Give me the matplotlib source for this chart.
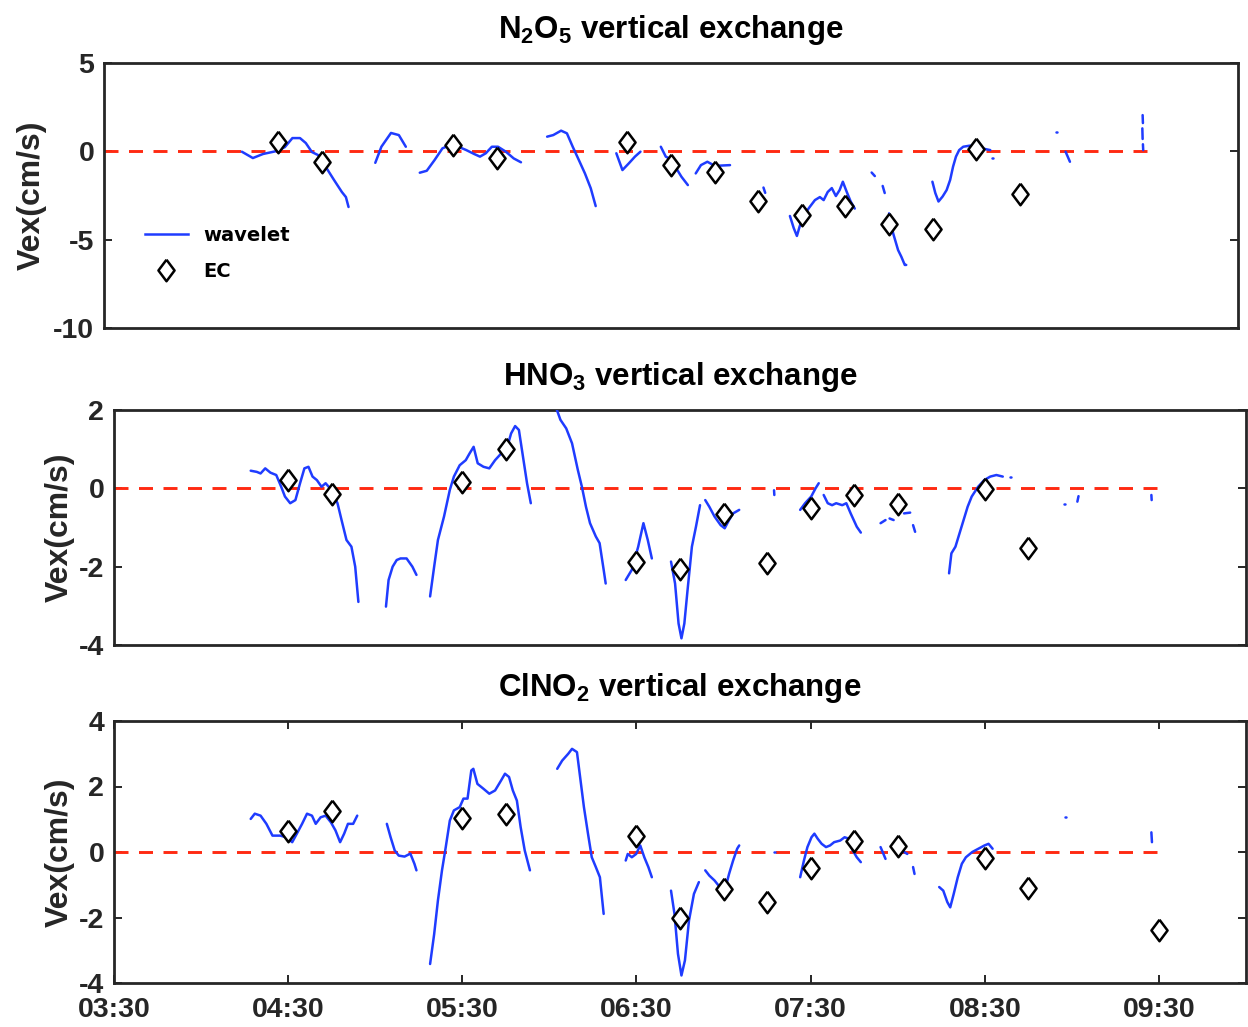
import matplotlib
matplotlib.use("Agg")
import matplotlib.pyplot as plt
from matplotlib.lines import Line2D

plt.rcParams["font.family"] = ["Liberation Sans", "DejaVu Sans"]
plt.rcParams["font.weight"] = "bold"
plt.rcParams["mathtext.fontset"] = "custom"
plt.rcParams["mathtext.bf"] = "Liberation Sans:bold"
plt.rcParams["mathtext.rm"] = "Liberation Sans:bold"
plt.rcParams["mathtext.default"] = "bf"

# ---------------------------------------------------------------- data
# time axis ticks (clock time)
tick_labels = ["03:30", "04:30", "05:30", "06:30", "07:30", "08:30", "09:30"]
x_start, x_end = "03:30", "10:00"
zero_line_end = "09:32"

# EC (eddy covariance) exchange velocities, cm/s
n2o5_ec_times = ["04:30", "04:45", "05:30", "05:45", "06:30", "06:45", "07:00",
                 "07:15", "07:30", "07:45", "08:00", "08:15", "08:30", "08:45"]
n2o5_ec_vex = [0.53, -0.60, 0.36, -0.38, 0.53, -0.77, -1.17,
               -2.81, -3.60, -3.10, -4.12, -4.40, 0.13, -2.42]

hno3_ec_times = ["04:30", "04:45", "05:30", "05:45", "06:30", "06:45", "07:00",
                 "07:15", "07:30", "07:45", "08:00", "08:30", "08:45"]
hno3_ec_vex = [0.21, -0.15, 0.16, 1.00, -1.88, -2.06, -0.66,
               -1.91, -0.50, -0.18, -0.40, -0.02, -1.52]

clno2_ec_times = ["04:30", "04:45", "05:30", "05:45", "06:30", "06:45", "07:00",
                  "07:15", "07:30", "07:45", "08:00", "08:30", "08:45", "09:30"]
clno2_ec_vex = [0.64, 1.25, 1.04, 1.16, 0.49, -2.00, -1.13,
                -1.53, -0.49, 0.34, 0.18, -0.18, -1.10, -2.38]

# wavelet exchange velocities: gap-separated pieces (minutes after midnight, cm/s)
n2o5_wavelet = [
    ([257.4, 261.2, 264.7, 269.5, 272.2, 274.8, 277.4, 279.4, 281.5, 283.6, 286.3, 289.1, 291.8, 293.2, 294.1],
     [-0.02, -0.38, -0.15, 0.02, 0.24, 0.75, 0.75, 0.47, -0.04, -0.21, -0.89, -1.62, -2.30, -2.59, -3.15]),
    ([303.3, 305.4, 308.7, 311.4, 313.8],
     [-0.65, 0.26, 1.04, 0.92, 0.26]),
    ([318.6, 321.0, 323.7, 326.4, 329.2, 331.9, 334.6, 337.3, 339.3, 341.3, 343.4, 345.5, 348.2, 350.9, 353.4],
     [-1.21, -1.10, -0.49, 0.17, 0.36, 0.26, 0.07, -0.15, -0.30, -0.11, 0.26, 0.26, -0.02, -0.40, -0.62]),
    ([362.4, 364.5, 367.2, 369.2, 371.2, 373.3, 375.4, 377.4, 379.1],
     [0.83, 0.92, 1.17, 1.02, 0.26, -0.49, -1.25, -2.09, -3.10]),
    ([386.2, 388.3, 390.5, 392.6, 394.5],
     [-0.11, -1.06, -0.68, -0.30, -0.02]),
    ([401.5, 403.2, 405.4, 406.8, 408.6, 410.8],
     [0.26, -0.30, -0.49, -0.96, -1.44, -1.91]),
    ([413.5, 415.3, 417.5, 419.6, 421.7, 425.3],
     [-1.25, -0.78, -0.59, -0.78, -0.81, -0.78]),
    ([436.8, 437.4], [-2.05, -2.35]),
    ([445.9, 447.2, 448.3, 449.3, 451.0, 452.7, 454.5, 456.2, 457.5, 458.9, 460.3, 461.7, 463.0, 464.1, 465.4, 466.8, 468.2],
     [-3.66, -4.34, -4.79, -4.22, -3.54, -3.15, -2.76, -2.59, -2.76, -2.30, -2.08, -2.53, -2.19, -1.72, -2.28, -2.84, -3.24]),
    ([474.0, 475.1], [-1.20, -1.40]),
    ([477.8, 478.5], [-1.96, -2.36]),
    ([480.0, 481.4, 483.1, 484.2, 485.4, 485.9],
     [-3.51, -4.64, -5.59, -5.96, -6.43, -6.43]),
    ([494.9, 495.9, 497.0, 498.4, 499.8, 501.0, 502.0, 503.0, 504.1, 505.5, 507.7, 509.8, 511.9, 514.8],
     [-1.72, -2.36, -2.84, -2.56, -2.19, -1.62, -0.87, -0.30, 0.07, 0.26, 0.32, 0.26, 0.17, 0.07]),
    ([515.4, 515.6], [-0.38, -0.38]),
    ([537.3, 537.6], [1.11, 1.11]),
    ([540.7, 542.2], [-0.02, -0.59]),
    ([567.2, 567.3], [2.05, 1.60]),
    ([567.1, 567.2], [1.30, 0.70]),
    ([567.3, 567.4], [0.40, 0.07]),
]

hno3_wavelet = [
    ([257.1, 259.2, 260.5, 262.1, 263.9, 265.9, 267.6, 268.9, 270.7, 272.5, 274.1, 275.6, 277.0, 278.4, 279.9, 281.5,
      282.9, 284.9, 287.0, 288.4, 290.1, 291.8, 293.1, 294.2],
     [0.45, 0.42, 0.38, 0.51, 0.40, 0.34, 0.04, -0.21, -0.38, -0.30, 0.13, 0.51, 0.55, 0.30, 0.21, 0.04,
      0.13, -0.04, -0.38, -0.81, -1.32, -1.49, -2.00, -2.90]),
    ([303.7, 304.6, 306.0, 307.4, 308.7, 310.8, 312.8, 314.2],
     [-3.02, -2.34, -2.00, -1.83, -1.79, -1.79, -2.00, -2.21]),
    ([318.9, 320.3, 321.6, 323.7, 325.7, 327.1, 329.1, 331.2, 332.5, 333.9, 335.3, 337.3, 339.3, 341.3, 343.4, 345.5,
      346.8, 348.2, 349.5, 350.9, 352.3, 353.6],
     [-2.76, -2.00, -1.32, -0.72, -0.04, 0.30, 0.59, 0.72, 0.89, 1.06, 0.64, 0.55, 0.51, 0.72, 0.89, 1.06,
      1.40, 1.59, 1.49, 0.81, 0.13, -0.38]),
    ([362.0, 362.4, 363.8, 365.8, 367.8, 369.8, 371.2, 372.6, 374.0, 376.0, 377.3, 378.7, 379.4],
     [2.20, 2.04, 1.75, 1.53, 1.15, 0.47, 0.04, -0.47, -0.89, -1.23, -1.40, -2.08, -2.43]),
    ([386.3, 388.4, 390.6, 392.4, 393.9, 395.3],
     [-2.34, -2.08, -1.49, -0.89, -1.32, -1.79]),
    ([401.9, 403.3, 404.5, 405.5, 406.5, 407.6, 409.1, 410.5, 411.9],
     [-1.87, -2.43, -3.45, -3.83, -3.45, -2.60, -1.49, -0.98, -0.43]),
    ([413.7, 415.1, 416.9, 419.0, 420.4, 421.9, 423.3, 425.4],
     [-0.30, -0.47, -0.72, -0.94, -1.02, -0.81, -0.64, -0.55]),
    ([437.4, 437.5], [-0.05, -0.17]),
    ([446.4, 448.1, 450.2, 451.7, 452.8],
     [-0.55, -0.38, -0.21, 0.00, 0.13]),
    ([454.5, 455.9, 457.4, 458.8, 460.9, 462.3, 463.8, 465.9, 467.3],
     [-0.17, -0.38, -0.43, -0.38, -0.43, -0.38, -0.64, -0.98, -1.13]),
    ([474.1, 475.8], [-0.89, -0.81]),
    ([477.2, 478.6], [-0.77, -0.81]),
    ([482.2, 484.3], [-0.64, -0.62]),
    ([485.3, 486.0], [-0.94, -1.11]),
    ([497.7, 498.5, 499.9, 501.3, 502.7, 504.1, 505.5, 507.7, 509.8, 511.9, 514.0, 516.2],
     [-2.17, -1.66, -1.49, -1.15, -0.81, -0.47, -0.21, 0.04, 0.21, 0.30, 0.34, 0.30]),
    ([518.8, 519.1], [0.30, 0.30]),
    ([537.3, 537.6], [-0.40, -0.40]),
    ([541.9, 542.3], [-0.34, -0.20]),
    ([567.4, 567.5], [-0.17, -0.30]),
]

clno2_wavelet = [
    ([257.1, 258.5, 260.5, 262.5, 264.6, 267.3, 269.3, 271.4, 273.0, 274.8, 276.5, 278.2, 279.5, 281.2, 282.9, 284.7,
      286.3, 287.9, 289.3, 290.6, 292.4, 293.8],
     [1.01, 1.17, 1.11, 0.86, 0.50, 0.50, 0.45, 0.30, 0.56, 0.86, 1.17, 1.11, 0.86, 1.06, 1.11, 0.91,
      0.66, 0.30, 0.56, 0.86, 0.86, 1.11]),
    ([304.0, 305.3, 306.7, 308.1, 310.1, 312.1, 313.5, 314.2],
     [0.86, 0.45, 0.05, -0.11, -0.14, -0.05, -0.36, -0.56]),
    ([318.9, 320.3, 321.6, 323.0, 324.3, 325.7, 327.1, 329.1, 330.4, 331.8, 333.1, 333.8, 335.2, 337.3, 339.3, 341.3,
      343.4, 344.7, 346.1, 347.4, 348.8, 350.1, 351.5, 353.3],
     [-3.42, -2.51, -1.48, -0.56, 0.15, 0.96, 1.27, 1.37, 1.63, 1.63, 2.49, 2.54, 2.08, 1.93, 1.78, 1.88,
      2.19, 2.39, 2.29, 1.88, 1.57, 0.76, 0.05, -0.56]),
    ([362.7, 364.4, 366.5, 367.8, 369.5, 370.6, 371.9, 373.3, 374.6, 376.0, 377.4, 378.7],
     [2.54, 2.79, 3.00, 3.15, 3.05, 2.28, 1.37, 0.56, -0.16, -0.46, -0.77, -1.89]),
    ([386.3, 387.0, 388.4, 389.9, 391.3, 392.7, 394.1, 395.3],
     [-0.26, -0.06, -0.16, -0.06, 0.20, -0.16, -0.46, -0.77]),
    ([401.9, 403.1, 404.3, 405.5, 406.7, 408.1, 409.8, 411.5],
     [-1.18, -1.89, -3.11, -3.77, -3.31, -2.09, -1.28, -0.92]),
    ([413.7, 415.1, 416.9, 418.7, 420.4, 421.9, 423.3, 424.7, 425.4],
     [-0.56, -0.72, -0.87, -1.07, -1.18, -0.67, -0.26, 0.10, 0.20]),
    ([437.4, 437.6], [0.00, 0.00]),
    ([446.4, 447.7, 448.9, 450.3, 451.3, 452.4, 453.8, 455.3, 456.7, 458.1, 460.2, 461.7, 463.1, 464.5, 465.9, 467.3],
     [-0.77, -0.26, 0.15, 0.45, 0.56, 0.41, 0.25, 0.15, 0.20, 0.30, 0.35, 0.45, 0.41, 0.05, -0.16, -0.31]),
    ([474.1, 475.8], [0.15, -0.21]),
    ([479.2, 481.3, 483.3], [0.10, 0.05, -0.06]),
    ([485.3, 485.8], [-0.46, -0.67]),
    ([494.3, 495.7, 497.1, 498.1, 499.3, 500.7, 502.1, 503.5, 505.7, 507.8, 509.9, 511.3, 512.7],
     [-1.07, -1.18, -1.53, -1.69, -1.28, -0.77, -0.36, -0.16, 0.00, 0.10, 0.20, 0.25, 0.10]),
    ([537.7, 537.9], [1.06, 1.06]),
    ([542.0, 542.2], [0.37, 0.37]),
    ([567.4, 567.6], [0.60, 0.30]),
]

titles = [r"N$_2$O$_5$ vertical exchange",
          r"HNO$_3$ vertical exchange",
          r"ClNO$_2$ vertical exchange"]
y_limits = [(-10, 5), (-4, 2), (-4, 4)]
y_ticks = [[-10, -5, 0, 5], [-4, -2, 0, 2], [-4, -2, 0, 2, 4]]

# ---------------------------------------------------------------- style
BLUE = "#1f3cff"
RED = "#ff2a12"
DARK = "#262626"
DIAMOND = [(0, 1), (0.75, 0), (0, -1), (-0.75, 0), (0, 1)]


def to_minutes(hhmm):
    h, m = hhmm.split(":")
    return int(h) * 60 + int(m)


fig = plt.figure(figsize=(12.48, 10.27), dpi=100)
W, H = 1248, 1027
# axes boxes in pixels: left, top, right, bottom
boxes = [(104, 63, 1238, 328), (114, 410, 1246, 645), (114, 721, 1246, 983)]
label_right = [47, 75, 75]

panels = [
    (n2o5_wavelet, n2o5_ec_times, n2o5_ec_vex),
    (hno3_wavelet, hno3_ec_times, hno3_ec_vex),
    (clno2_wavelet, clno2_ec_times, clno2_ec_vex),
]

axes = []
for i, (wave, ec_t, ec_v) in enumerate(panels):
    l, t, r, b = boxes[i]
    ax = fig.add_axes([l / W, 1 - b / H, (r - l) / W, (b - t) / H])
    axes.append(ax)

    # zero reference line
    zl, = ax.plot([to_minutes(x_start), to_minutes(zero_line_end)], [0, 0],
                  color=RED, lw=2.1, zorder=2)
    zl.set_dashes((4.8, 3.6))

    for seg_t, seg_v in wave:
        ax.plot(seg_t, seg_v, color=BLUE, lw=1.8, solid_capstyle="round", zorder=3)

    ax.plot([to_minutes(s) for s in ec_t], ec_v, linestyle="none",
            marker=DIAMOND, markersize=15.5, markerfacecolor="white",
            markeredgecolor="black", markeredgewidth=1.8, zorder=4)

    ax.set_xlim(to_minutes(x_start), to_minutes(x_end))
    ax.set_ylim(*y_limits[i])
    ax.set_yticks(y_ticks[i])
    ax.set_yticklabels([str(v) for v in y_ticks[i]])
    if i == 2:
        ax.set_xticks([to_minutes(s) for s in tick_labels])
        ax.set_xticklabels(tick_labels)
    else:
        ax.set_xticks([])

    ax.tick_params(direction="in", length=6, width=1.4, top=True, right=True,
                   labelsize=20.5, pad=7, colors=DARK, labelcolor=DARK)
    ax.tick_params(axis="x", pad=10)
    for s in ax.spines.values():
        s.set_linewidth(2.0)
        s.set_color(DARK)

    ax.set_title(titles[i], fontsize=22.5, fontweight="bold", pad=18, color="black")
    ax.set_ylabel("Vex(cm/s)", fontsize=23, fontweight="bold", color=DARK)
    ax.yaxis.set_label_coords((label_right[i] - l) / (r - l), 0.5)

# legend in the top panel
handles = [
    Line2D([], [], color=BLUE, lw=1.8),
    Line2D([], [], linestyle="none", marker=DIAMOND, markersize=15.5,
           markerfacecolor="white", markeredgecolor="black", markeredgewidth=1.8),
]
axes[0].legend(handles, ["wavelet", "EC"], loc="upper left",
               bbox_to_anchor=(0.036, 0.385), frameon=False,
               prop={"family": "DejaVu Sans", "weight": "bold", "size": 14},
               handlelength=2.2, handletextpad=0.8, labelspacing=0.85,
               borderpad=0, borderaxespad=0)

fig.savefig("out.png", dpi=100)
